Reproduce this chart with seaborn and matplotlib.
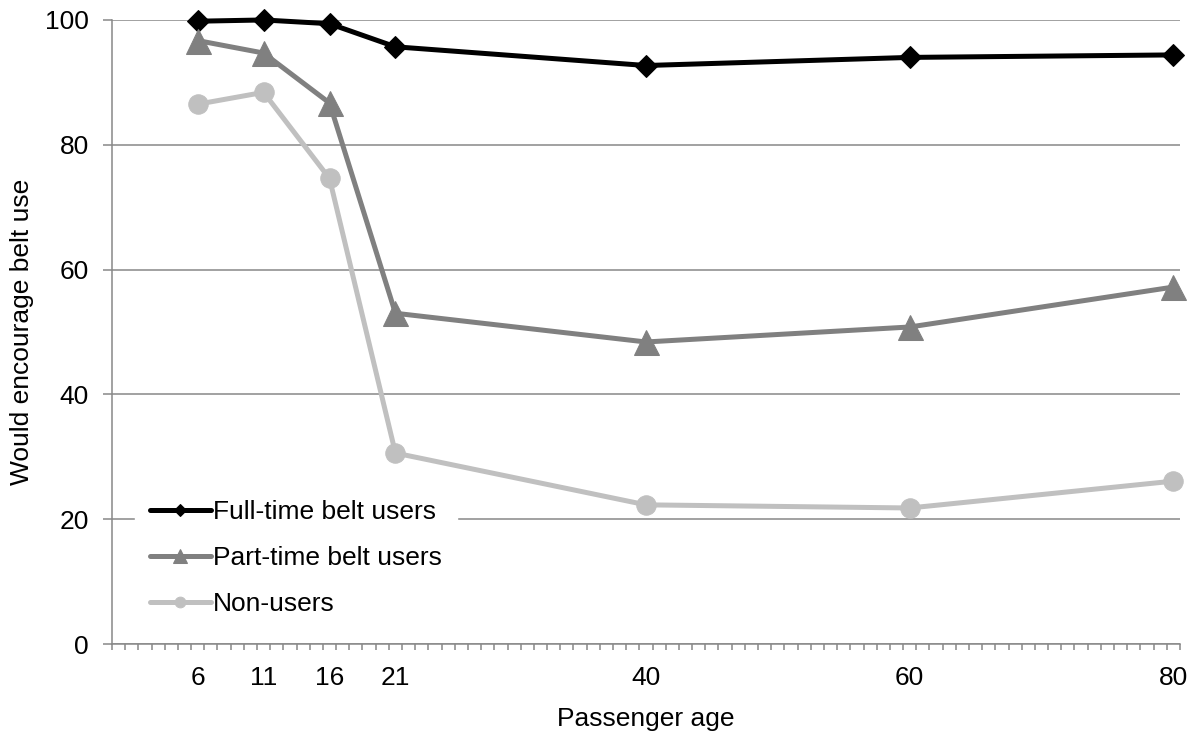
import numpy as np
import pandas as pd
import matplotlib
matplotlib.use('Agg')
import matplotlib.pyplot as plt
import seaborn as sns

# ages
ages = [6, 11, 16, 21, 40, 60, 80]
tick_labels = ['6', '11', '16', '21', '40', '60', '80']

# percent who would encourage belt use
full_time = [99.8, 100.0, 99.4, 95.7, 92.7, 94.0, 94.4]
part_time = [96.7, 94.7, 86.7, 53.0, 48.4, 50.8, 57.2]
non_users = [86.5, 88.4, 74.6, 30.6, 22.3, 21.8, 26.1]

series = ['Full-time belt users', 'Part-time belt users', 'Non-users']

df = pd.DataFrame({
    'age': ages * 3,
    'value': full_time + part_time + non_users,
    'group': [s for s in series for _ in ages],
})

sns.set_style('white')
plt.rcParams['font.family'] = ['Liberation Sans', 'DejaVu Sans']
plt.rcParams['text.color'] = 'black'
plt.rcParams['axes.labelcolor'] = 'black'
plt.rcParams['xtick.color'] = 'black'
plt.rcParams['ytick.color'] = 'black'

fig, ax = plt.subplots(figsize=(11.96, 7.34), dpi=100)
fig.subplots_adjust(left=0.0936, right=0.9866, top=0.9728, bottom=0.1226)

styles = {
    'Full-time belt users': dict(color='black', marker='D', markersize=11),
    'Part-time belt users': dict(color='#808080', marker='^', markersize=18),
    'Non-users': dict(color='#c0c0c0', marker='o', markersize=14),
}

for name in series:
    st = styles[name]
    sns.lineplot(data=df[df['group'] == name], x='age', y='value', ax=ax,
                 color=st['color'], marker=st['marker'], markersize=st['markersize'],
                 markeredgecolor=st['color'], linewidth=3.6, label=name,
                 clip_on=False, zorder=3)

grid_c = '#888888'
ax.set_xlim(-0.5, 80.5)
ax.set_ylim(0, 100)
ax.set_yticks([0, 20, 40, 60, 80, 100])
ax.yaxis.grid(True, color=grid_c, linewidth=1.1)
ax.set_axisbelow(True)

ax.set_xticks(ages)
ax.set_xticklabels(tick_labels)
ax.set_xticks(np.arange(-0.5, 81, 1), minor=True)
ax.tick_params(axis='x', which='major', length=0, pad=16, labelsize=19, labelcolor='black')
ax.tick_params(axis='x', which='minor', bottom=True, length=4.5, width=1.1,
               color=grid_c, direction='out')
ax.tick_params(axis='y', which='major', length=6.5, width=1.1, color=grid_c, direction='out',
               pad=10, labelsize=19, left=True, labelcolor='black')

for s in ['top', 'right']:
    ax.spines[s].set_visible(False)
for s in ['left', 'bottom']:
    ax.spines[s].set_color(grid_c)
    ax.spines[s].set_linewidth(1.1)

ax.set_xlabel('Passenger age', fontsize=19, labelpad=12)
ax.set_ylabel('Would encourage belt use', fontsize=19, labelpad=8)

leg = ax.legend(loc='lower left', bbox_to_anchor=(0.022, 0.022), borderaxespad=0,
                fontsize=19, frameon=True, fancybox=False, edgecolor='white',
                framealpha=1, handlelength=2.3, handletextpad=0.1,
                labelspacing=0.82, markerscale=0.55, borderpad=0.55)
leg.set_zorder(5)

plt.savefig('out.png', dpi=100)
